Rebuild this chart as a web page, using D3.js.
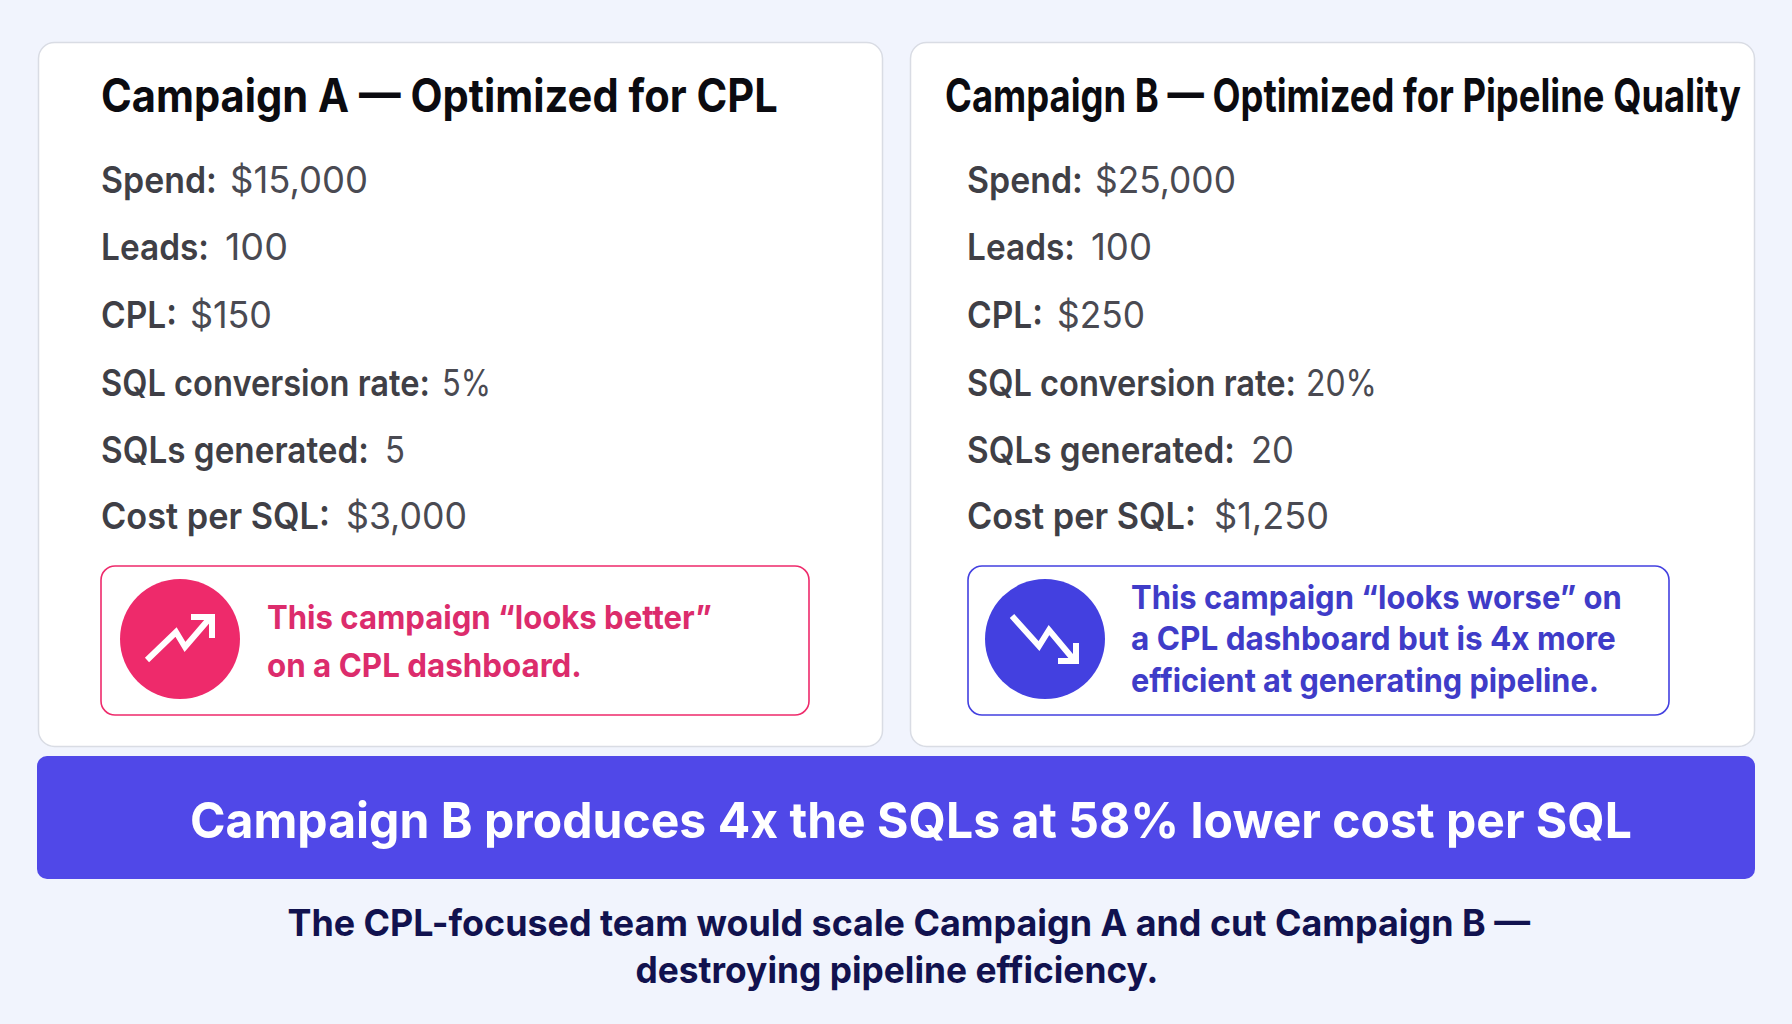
<!DOCTYPE html>
<html>
<head>
<meta charset="utf-8">
<script src="https://cdn.jsdelivr.net/npm/d3@7"></script>
<style>
  html, body { margin: 0; padding: 0; background: #f1f4fd; }
  svg { display: block; }
  text { font-family: Inter, "Open Sans", sans-serif; }
</style>
</head>
<body>
<div id="chart"></div>
<script>
const metricLabels = ["Spend:", "Leads:", "CPL:", "SQL conversion rate:", "SQLs generated:", "Cost per SQL:"];
const campaignAValues = ["$15,000", "100", "$150", "5%", "5", "$3,000"];
const campaignBValues = ["$25,000", "100", "$250", "20%", "20", "$1,250"];
const cardTitles = ["Campaign A — Optimized for CPL", "Campaign B — Optimized for Pipeline Quality"];
const noteA = ["This campaign “looks better”", "on a CPL dashboard."];
const noteB = ["This campaign “looks worse” on", "a CPL dashboard but is 4x more", "efficient at generating pipeline."];
const bannerText = "Campaign B produces 4x the SQLs at 58% lower cost per SQL";
const footerLines = ["The CPL-focused team would scale Campaign A and cut Campaign B —", "destroying pipeline efficiency."];

const width = 1792;
const height = 1024;

const svg = d3.select("#chart")
  .append("svg")
  .attr("width", width)
  .attr("height", height);

const rowY = d3.scaleOrdinal().domain(metricLabels).range([193, 260, 328, 396, 463, 529]);

// horizontal extents measured on the reference, text is squeezed to them
const labelWidths = [116, 108, 76, 329, 268, 229];
const valueOffsetsA = [129, 124, 89, 341, 284, 245];
const valueOffsetsB = [128, 124, 90, 339, 284, 247];
const valueWidthsA = [138, 63, 82, 49, 20, 121];
const valueWidthsB = [141, 61, 88, 71, 43, 115];

// scale the glyphs horizontally so the box of the text really has the target width
function addText(parent, x, y, str, size, weight, fill, len, anchor) {
  const t = parent.append("text")
    .attr("font-size", size)
    .attr("font-weight", weight)
    .attr("fill", fill)
    .text(str);
  const natural = t.node().getComputedTextLength();
  const sx = len ? len / natural : 1;
  const left = anchor === "middle" ? x - natural * sx / 2 : x;
  t.attr("transform", `translate(${left},${y}) scale(${sx},1)`);
  return t;
}

const line = d3.line();

function drawCard(cfg) {
  const g = svg.append("g");

  g.append("rect")
    .attr("x", cfg.x + 0.5).attr("y", 42.5)
    .attr("width", 844).attr("height", 704)
    .attr("rx", 16)
    .attr("fill", "#ffffff")
    .attr("stroke", "#d9dce4")
    .attr("stroke-width", 1.5);

  addText(g, cfg.titleX, 112, cfg.title, 46, 700, "#0b0b10", cfg.titleLen);

  metricLabels.forEach((label, i) => {
    addText(g, cfg.textX, rowY(label), label, 37, 600, "#3f3f46", labelWidths[i]);
    addText(g, cfg.textX + cfg.valueOffsets[i], rowY(label), cfg.values[i], 37, 400, "#4a4a52", cfg.valueWidths[i]);
  });

  g.append("rect")
    .attr("x", cfg.noteLeft).attr("y", 566)
    .attr("width", cfg.noteW).attr("height", 149)
    .attr("rx", 14)
    .attr("fill", "#ffffff")
    .attr("stroke", cfg.color)
    .attr("stroke-width", 1.6);

  g.append("circle")
    .attr("cx", cfg.circleX).attr("cy", 639).attr("r", 60)
    .attr("fill", cfg.color);

  g.append("path")
    .attr("d", line(cfg.iconPath))
    .attr("fill", "none").attr("stroke", "#ffffff").attr("stroke-width", 6);
  g.append("path")
    .attr("d", line(cfg.iconHead))
    .attr("fill", "none").attr("stroke", "#ffffff").attr("stroke-width", 6);

  cfg.note.forEach((str, i) => {
    addText(g, cfg.noteX, cfg.noteY[i], str, 33, 700, cfg.textColor, cfg.noteLens[i]);
  });
}

drawCard({
  x: 38,
  title: cardTitles[0], titleX: 101, titleLen: 677,
  textX: 101, values: campaignAValues, valueWidths: valueWidthsA, valueOffsets: valueOffsetsA,
  noteLeft: 101, noteW: 708, circleX: 180, color: "#ee2a6b", textColor: "#dc2c6c",
  note: noteA, noteX: 267, noteY: [629, 677], noteLens: [445, 315],
  iconPath: [[147, 660], [176, 632], [185, 647], [209, 619]],
  iconHead: [[191, 617], [212, 617], [212, 638]]
});

drawCard({
  x: 910,
  title: cardTitles[1], titleX: 945, titleLen: 796,
  textX: 967, values: campaignBValues, valueWidths: valueWidthsB, valueOffsets: valueOffsetsB,
  noteLeft: 968, noteW: 701, circleX: 1045, color: "#4340e0", textColor: "#3f3cc8",
  note: noteB, noteX: 1131, noteY: [609, 650, 692], noteLens: [491, 485, 468],
  iconPath: [[1012, 616], [1039, 646], [1049, 630], [1074, 660]],
  iconHead: [[1076, 643], [1076, 661], [1058, 661]]
});

svg.append("rect")
  .attr("x", 37).attr("y", 756)
  .attr("width", 1718).attr("height", 123)
  .attr("rx", 10)
  .attr("fill", "#5048e8");

addText(svg, 911, 838, bannerText, 50, 700, "#ffffff", 1442, "middle");

addText(svg, 909, 936, footerLines[0], 37, 700, "#11124f", 1243, "middle");
addText(svg, 897, 983, footerLines[1], 37, 700, "#11124f", 523, "middle");
</script>
</body>
</html>
